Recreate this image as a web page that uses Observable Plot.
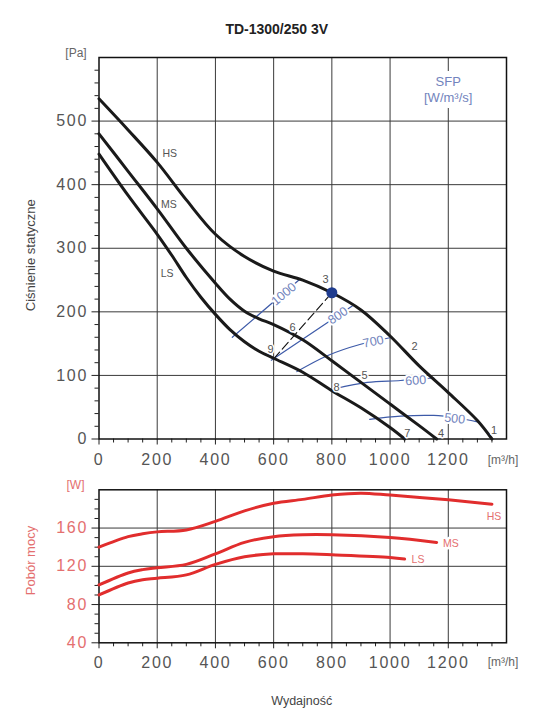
<!DOCTYPE html>
<html><head><meta charset="utf-8">
<script src="https://cdn.jsdelivr.net/npm/d3@7"></script>
<script src="https://cdn.jsdelivr.net/npm/@observablehq/plot@0.6"></script>
<style>
html,body{margin:0;padding:0;background:#fff;overflow:hidden;}
#wrap{position:relative;width:543px;height:717px;}
#wrap svg{position:absolute;left:0;}
g[aria-label$="tick label"] text{letter-spacing:1.7px;}
g[aria-label="curve-label"] text{letter-spacing:2px;}
g[aria-label="unit-label"] text{letter-spacing:1px;}
g[aria-label="sfp-label"] text{letter-spacing:0.8px;}
</style></head><body><div id="wrap"></div>
<script>
// ---- Pressure curves (m3/h, Pa)
const hsFlow = [0,100,200,300,400,500,600,700,800,900,1000,1100,1200,1300,1350];
const hsPressure = [535,486,435,376,322,287,264,250,230,203,162,115,73,29,0];
const msFlow = [0,100,200,300,400,450,500,550,600,700,800,900,1000,1100,1160];
const msPressure = [480,421,362,300,245,220,201,189,180,156,123,89,55,21,0];
const lsFlow = [0,100,200,250,300,350,400,450,500,550,600,700,800,900,1000,1050];
const lsPressure = [448,383,322,289,254,223,196,172,153,138,127,105,76,49,18,0];
// ---- Power curves (m3/h, W)
const hsPowFlow = [0,100,150,200,300,400,500,600,700,800,900,1000,1200,1350];
const hsPower = [140,151,154,156,158,167,178,186,190,194.5,196.5,194.5,189.5,185];
const msPowFlow = [0,100,150,200,300,400,500,600,700,800,1000,1160];
const msPower = [100.5,113,116.5,118.5,122,133,145,151,153,153,150,145];
const lsPowFlow = [0,100,150,200,300,400,500,600,700,800,1000,1050];
const lsPower = [90,102.5,106,107.5,111,122,130,133,133,132,129.3,127.6];
// ---- SFP iso-lines (W/m3/s)
const sfp1000Flow = [458,692], sfp1000P = [160,252];
const sfp800Flow = [592,870], sfp800P = [124,209];
const sfp700Flow = [680,784,899,1008], sfp700P = [106,131,149,160];
const sfp600Flow = [810,922,1036,1150], sfp600P = [79,89,92,96];
const sfp500Flow = [930,1036,1150,1230,1300], sfp500P = [31,36,37,33,27];
const sfpLabels = ["1000","800","700","600","500"];
const sfpLabelFlow = [635,821,942,1088,1222];
const sfpLabelP = [228,194,153,92,32];
const sfpLabelAngle = [-40,-34,-12,-4,6];
// ---- Numbered points
const pointLabels = ["1","2","3","4","5","6","7","8","9"];
const pointFlow = [1357,1084,778,1175,912,665,1059,816,589];
const pointP = [13,145,251,9,100,175,8,81,141];
// ---- Operating point and dashed line
const opFlow = [800], opP = [230];
const dashFlow = [600,800], dashP = [126,230];
// ---- Curve labels
const curveNames = ["HS","MS","LS"];
const curveLabelFlow = [243,240,234];
const curveLabelP = [449,369,260];
const powLabelFlow = [1357,1209,1096];
const powLabelW = [172,143.3,126.6];
// ---- Ticks
const xMajor = [0,200,400,600,800,1000,1200];
const xMinor = d3.range(50,1400,50).filter(v => v % 200 !== 0);
const xGrid = [200,400,600,800,1000,1200];
const pMajor = [0,100,200,300,400,500];
const pMinor = d3.range(20,600,20).filter(v => v % 100 !== 0);
const pGrid = [100,200,300,400,500];
const wMajor = [40,80,120,160];
const wMinor = d3.range(50,200,10).filter(v => v % 40 !== 0);
const wGrid = [80,120,160];

const rows = (xs, ys) => xs.map((x,i) => ({x, y: ys[i]}));
const labRows = (t, xs, ys, extra) => t.map((s,i) => ({t: s, x: xs[i], y: ys[i], a: extra ? extra[i] : 0}));
const fmt = d => String(d);

const FONT = "Liberation Sans, Arial, sans-serif";
const GRID = "#3a3a3a", TICKTXT = "#555", BLUE = "#3d5aa8", BLUETXT = "#7284bd";
const RED = "#e12d2d", SALMON = "#e46f6f";
const ann = {textAnchor: "middle", lineAnchor: "middle", text: d => d};

const topPlot = Plot.plot({
  width: 543, height: 475,
  marginLeft: 98.5, marginRight: 37, marginTop: 57, marginBottom: 36.5,
  x: {domain: [0,1400], label: null},
  y: {domain: [0,600], label: null},
  style: {fontFamily: FONT, background: "white", overflow: "visible"},
  marks: [
    Plot.gridX(xGrid, {stroke: GRID, strokeOpacity: 1, strokeWidth: 1}),
    Plot.gridY(pGrid, {stroke: GRID, strokeOpacity: 1, strokeWidth: 1}),
    Plot.axisY(pMinor, {tickSize: 4, tickFormat: () => "", stroke: "#222"}),
    Plot.axisY(pMajor, {tickSize: 7, tickPadding: 4, fontSize: 16, fill: TICKTXT, stroke: "#222", label: null, tickFormat: fmt}),
    Plot.axisX(xMinor, {tickSize: 4, tickFormat: () => "", stroke: "#222"}),
    Plot.axisX(xMajor, {tickSize: 6, tickPadding: 9, fontSize: 16, fill: TICKTXT, stroke: "#222", label: null, tickFormat: fmt}),
    Plot.frame({stroke: "#111", strokeWidth: 1.5}),
    // SFP title
    Plot.text(["SFP\n[W/m³/s]"], {...ann, frameAnchor: "top-right", dx: -58.3, dy: 31, fontSize: 13, lineHeight: 1.25, fill: BLUETXT, stroke: "white", strokeWidth: 12, strokeLinejoin: "round", ariaLabel: "sfp-label"}),
    // SFP lines
    Plot.line(rows(sfp1000Flow, sfp1000P), {x: "x", y: "y", stroke: BLUE, strokeWidth: 1.2}),
    Plot.line(rows(sfp800Flow, sfp800P), {x: "x", y: "y", stroke: BLUE, strokeWidth: 1.2}),
    Plot.line(rows(sfp700Flow, sfp700P), {x: "x", y: "y", stroke: BLUE, strokeWidth: 1.2, curve: "catmull-rom"}),
    Plot.line(rows(sfp600Flow, sfp600P), {x: "x", y: "y", stroke: BLUE, strokeWidth: 1.2, curve: "catmull-rom"}),
    Plot.line(rows(sfp500Flow, sfp500P), {x: "x", y: "y", stroke: BLUE, strokeWidth: 1.2, curve: "catmull-rom"}),
    Plot.text(labRows(sfpLabels, sfpLabelFlow, sfpLabelP, sfpLabelAngle), {x: "x", y: "y", text: "t", rotate: "a", fontSize: 12.5, fill: BLUETXT, stroke: "white", strokeWidth: 4, strokeLinejoin: "round", ariaLabel: "sfp-label"}),
    // dashed line
    Plot.line(rows(dashFlow, dashP), {x: "x", y: "y", stroke: "#111", strokeWidth: 1.1, strokeDasharray: "9,4"}),
    // fan curves
    Plot.line(rows(hsFlow, hsPressure), {x: "x", y: "y", stroke: "#1a1a1a", strokeWidth: 3, curve: "catmull-rom"}),
    Plot.line(rows(msFlow, msPressure), {x: "x", y: "y", stroke: "#1a1a1a", strokeWidth: 3, curve: "catmull-rom"}),
    Plot.line(rows(lsFlow, lsPressure), {x: "x", y: "y", stroke: "#1a1a1a", strokeWidth: 3, curve: "catmull-rom"}),
    Plot.dot(rows(opFlow, opP), {x: "x", y: "y", r: 5.5, fill: "#1f3c8f", stroke: "none"}),
    Plot.text(labRows(pointLabels, pointFlow, pointP), {x: "x", y: "y", text: "t", fontSize: 11, fill: "#555", stroke: "white", strokeWidth: 3, strokeLinejoin: "round"}),
    Plot.text(labRows(curveNames, curveLabelFlow, curveLabelP), {x: "x", y: "y", text: "t", fontSize: 10.5, fill: "#555", ariaLabel: "curve-label"}),
    // titles & units
    Plot.text(["TD-1300/250 3V"], {...ann, frameAnchor: "top", dx: -26, dy: -28, fontSize: 14, fontWeight: "bold", fill: "#222"}),
    Plot.text(["[Pa]"], {...ann, frameAnchor: "top-left", dx: -23, dy: -4.3, fontSize: 12, fill: "#666", ariaLabel: "unit-label"}),
    Plot.text(["Ciśnienie statyczne"], {...ann, frameAnchor: "left", dx: -68, dy: 7, rotate: -90, fontSize: 13, fill: "#444"}),
    Plot.text(["[m³/h]"], {...ann, frameAnchor: "bottom-right", dx: -3.5, dy: 20.8, fontSize: 12, fill: "#666", ariaLabel: "unit-label"})
  ]
});

const botPlot = Plot.plot({
  width: 543, height: 242,
  marginLeft: 98.5, marginRight: 37, marginTop: 14.3, marginBottom: 74.7,
  x: {domain: [0,1400], label: null},
  y: {domain: [40,200], label: null},
  style: {fontFamily: FONT, background: "white", overflow: "visible"},
  marks: [
    Plot.gridX(xGrid, {stroke: GRID, strokeOpacity: 1, strokeWidth: 1}),
    Plot.gridY(wGrid, {stroke: GRID, strokeOpacity: 1, strokeWidth: 1}),
    Plot.axisY(wMinor, {tickSize: 4, tickFormat: () => "", stroke: "#222"}),
    Plot.axisY(wMajor, {tickSize: 7, tickPadding: 4, fontSize: 16, fill: SALMON, stroke: "#222", label: null, tickFormat: fmt}),
    Plot.axisX(xMinor, {tickSize: 4, tickFormat: () => "", stroke: "#222"}),
    Plot.axisX(xMajor, {tickSize: 6, tickPadding: 7.7, fontSize: 16, fill: TICKTXT, stroke: "#222", label: null, tickFormat: fmt}),
    Plot.frame({stroke: "#111", strokeWidth: 1.5}),
    Plot.line(rows(hsPowFlow, hsPower), {x: "x", y: "y", stroke: RED, strokeWidth: 3, curve: "catmull-rom"}),
    Plot.line(rows(msPowFlow, msPower), {x: "x", y: "y", stroke: RED, strokeWidth: 3, curve: "catmull-rom"}),
    Plot.line(rows(lsPowFlow, lsPower), {x: "x", y: "y", stroke: RED, strokeWidth: 3, curve: "catmull-rom"}),
    Plot.text(labRows(curveNames, powLabelFlow, powLabelW), {x: "x", y: "y", text: "t", fontSize: 10.5, fill: SALMON, stroke: "white", strokeWidth: 5, strokeLinejoin: "round", ariaLabel: "curve-label"}),
    Plot.text(["[W]"], {...ann, frameAnchor: "top-left", dx: -23.5, dy: -4.3, fontSize: 12, fill: SALMON, ariaLabel: "unit-label"}),
    Plot.text(["Pobór mocy"], {...ann, frameAnchor: "left", dx: -68.5, dy: -5.8, rotate: -90, fontSize: 13, fill: SALMON}),
    Plot.text(["[m³/h]"], {...ann, frameAnchor: "bottom-right", dx: -3.5, dy: 19.4, fontSize: 12, fill: "#666", ariaLabel: "unit-label"}),
    Plot.text(["Wydajność"], {...ann, frameAnchor: "bottom", dx: -1, dy: 57.7, fontSize: 12.5, fill: "#444"})
  ]
});

const wrap = document.getElementById("wrap");
topPlot.style.top = "0px";
botPlot.style.top = "475px";
wrap.appendChild(topPlot);
wrap.appendChild(botPlot);
</script></body></html>
